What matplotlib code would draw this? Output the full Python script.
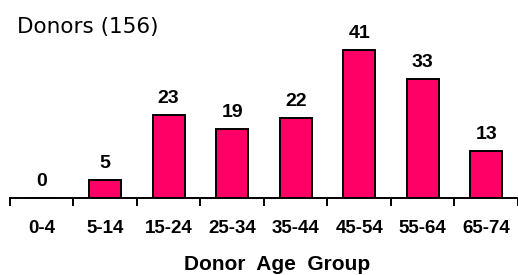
import matplotlib.pyplot as plt
import numpy as np

# data
age_groups = ['0-4', '5-14', '15-24', '25-34', '35-44', '45-54', '55-64', '65-74']
donors = [0, 5, 23, 19, 22, 41, 33, 13]
total_label = 'Donors (156)'
x_title = 'Donor  Age  Group'

W, H = 518, 275
fig = plt.figure(figsize=(W / 100, H / 100), dpi=100)

# axis line sits at y=198px, categories 64.3px wide starting at x=10px
cat_w = 64.3
x0 = 10
base = 198
ax = fig.add_axes([0, 1 - base / H, 1, base / H])
ax.set_xlim(-0.5 - x0 / cat_w, -0.5 + (W - x0) / cat_w)
ax.set_ylim(0, base / 3.62)

x = np.arange(len(age_groups))
ax.bar(x, donors, width=0.5, color='#FF0066', edgecolor='black', linewidth=1.4, zorder=3)

for xi, v in zip(x, donors):
    ax.text(xi, v + 2.2, str(v), ha='center', va='bottom',
            fontsize=14, fontweight='bold', family='Liberation Sans')

for s in ['top', 'right', 'left']:
    ax.spines[s].set_visible(False)
ax.spines['bottom'].set_linewidth(1.4)
ax.spines['bottom'].set_bounds(-0.5, len(age_groups) - 0.5)
ax.set_yticks([])

ax.set_xticks(np.arange(-0.5, len(age_groups) + 0.5, 1))
ax.set_xticklabels([])
ax.tick_params(axis='x', which='major', direction='out', length=6, width=1.4)
ax.set_xticks(x, minor=True)
ax.set_xticklabels(age_groups, minor=True, fontsize=13.5, fontweight='bold',
                   family='Liberation Sans')
ax.tick_params(axis='x', which='minor', length=0, pad=16)

fig.text(17 / W, 1 - 27 / H, total_label, fontsize=15.5, family='DejaVu Sans',
         ha='left', va='center')
fig.text(277 / W, 1 - 264 / H, x_title, fontsize=15, fontweight='bold',
         family='Liberation Sans', ha='center', va='center')

fig.savefig('out.png', dpi=100)
